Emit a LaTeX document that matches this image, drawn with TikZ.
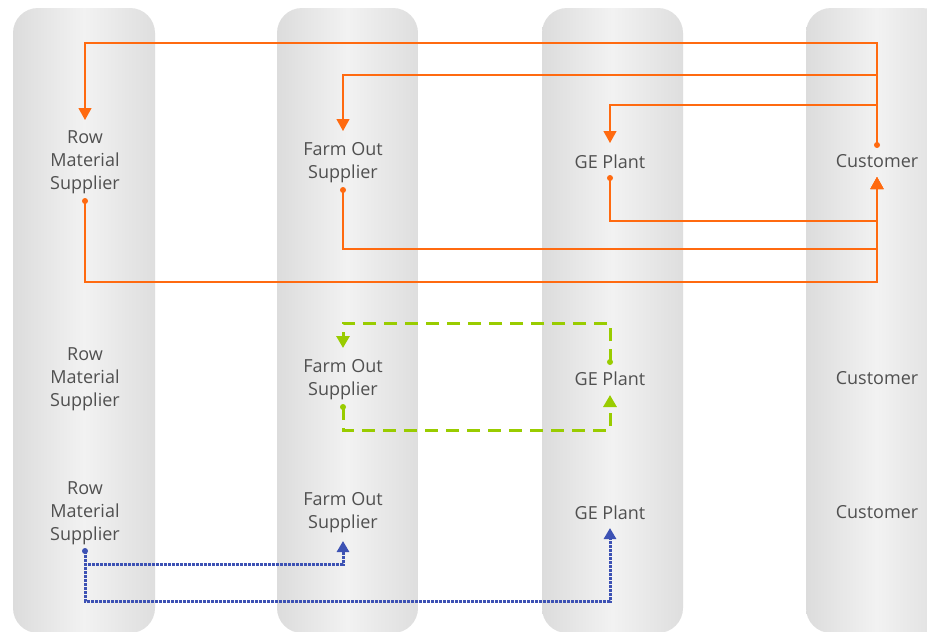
\documentclass[tikz,border=0pt]{standalone}
\usepackage{fontspec}
\setmainfont{Open Sans}
\usetikzlibrary{arrows.meta}
\definecolor{og}{HTML}{FF6A10}
\definecolor{gr}{HTML}{99CC00}
\definecolor{bl}{HTML}{3D52B4}
\definecolor{tx}{HTML}{505050}
\definecolor{pL}{HTML}{DCDCDC}
\definecolor{pM}{HTML}{F2F2F2}
\definecolor{pR}{HTML}{DEDEDE}
\begin{document}
\begin{tikzpicture}[x=1pt,y=-1pt,
  pillar/.style={rounded corners=25pt, left color=pL, right color=pR, middle color=pM, draw=none},
  lbl/.style={text=tx, font=\fontsize{18}{23}\selectfont, align=center, inner sep=0pt},
  oline/.style={draw=og, line width=1.2pt, -{Triangle[length=12pt,width=13pt]}},
  odot/.style={circle, fill=og, inner sep=0pt, minimum size=6pt},
  gline/.style={draw=gr, line width=3pt, dash pattern=on 13pt off 8pt, -{Triangle[length=12pt,width=13pt]}},
  gdot/.style={circle, fill=gr, inner sep=0pt, minimum size=6pt},
  bline/.style={draw=bl, line width=3pt, dash pattern=on 3pt off 1pt, -{Triangle[length=11pt,width=12pt]}},
  bdot/.style={circle, fill=bl, inner sep=0pt, minimum size=6pt}
]
\useasboundingbox (0,0) rectangle (927,632);
\fill[white] (0,0) rectangle (927,632);
% pillars
\path[pillar] (13,8) rectangle (155,633);
\path[pillar] (277,8) rectangle (418,633);
\path[pillar] (542,8) rectangle (683,633);
\path[pillar] (806,8) rectangle (947,633);

% top section labels
\node[lbl] (r1) at (85,162.5) {Row\\Material\\Supplier};
\node[lbl] (f1) at (343,162.5) {Farm Out\\Supplier};
\node[lbl] (g1) at (610,161.5) {GE Plant};
\node[lbl] (c1) at (877,161.5) {Customer};

% middle section labels
\node[lbl] (r2) at (85,379.5) {Row\\Material\\Supplier};
\node[lbl] (f2) at (343,380) {Farm Out\\Supplier};
\node[lbl] (g2) at (610,378.5) {GE Plant};
\node[lbl] (c2) at (877,378.5) {Customer};

% bottom section labels
\node[lbl] (r3) at (85,513.5) {Row\\Material\\Supplier};
\node[lbl] (f3) at (343,513) {Farm Out\\Supplier};
\node[lbl] (g3) at (610,512.5) {GE Plant};
\node[lbl] (c3) at (877,512.5) {Customer};

% orange flows
\node[odot] (cd) at (877,145) {};
\node[odot] (rd1) at (85,201) {};
\node[odot] (fd1) at (343,190) {};
\node[odot] (gd1) at (610,178) {};
\coordinate (rt1) at (85,120);
\coordinate (ft1) at (343,131);
\coordinate (gt1) at (610,143);
\coordinate (ct1) at (877,177);
\draw[oline] (cd.center) -- ++(0,-102) -| (rt1);
\draw[oline] (cd.center) -- ++(0,-70) -| (ft1);
\draw[oline] (cd.center) -- ++(0,-40) -| (gt1);
\draw[oline] (rd1.center) -- ++(0,81) -| (ct1);
\draw[oline] (fd1.center) -- ++(0,59) -| (ct1);
\draw[oline] (gd1.center) -- ++(0,43) -| (ct1);

% green flows
\node[gdot] (gd2) at (610,362) {};
\node[gdot] (fd2) at (343,407) {};
\coordinate (ft2) at (343,348);
\coordinate (gt2) at (610,395);
\draw[gline] (gd2.center) -- ++(0,-39) -| (ft2);
\draw[gline] (fd2.center) -- ++(0,23) -| (gt2);

% blue flows
\node[bdot] (rd3) at (85,551) {};
\coordinate (ft3) at (343,541);
\coordinate (gt3) at (610,528);
\draw[bline] (rd3.center) -- ++(0,13) -| (ft3);
\draw[bline] (rd3.center) -- ++(0,50) -| (gt3);
\end{tikzpicture}
\end{document}
